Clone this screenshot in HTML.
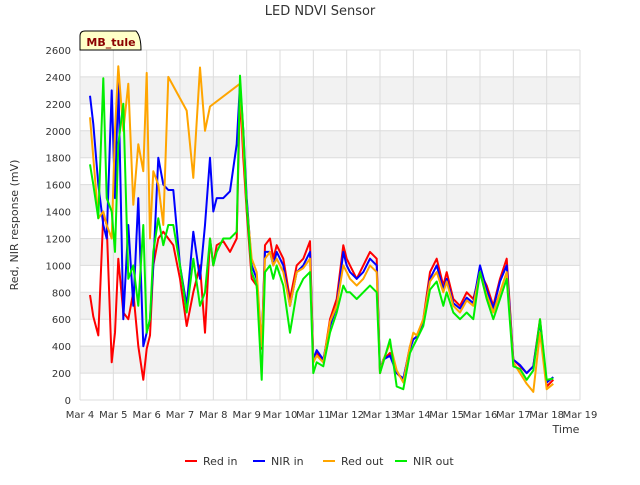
<!DOCTYPE html>
<html><head><meta charset="utf-8"><style>
body{margin:0;background:#fff;font-family:"Liberation Sans","DejaVu Sans",sans-serif}
svg text{font-family:"DejaVu Sans","Liberation Sans",sans-serif}
</style></head><body>
<svg id="c" width="640" height="480" viewBox="0 0 640 480">
<rect width="640" height="480" fill="#fff"/>
<g id="grid"></g>
<g id="axes"></g>
<g id="series"></g>
<text x="320" y="15" text-anchor="middle" font-size="13" fill="#333">LED NDVI Sensor</text>
<text transform="translate(18,225) rotate(-90)" text-anchor="middle" font-size="11" fill="#333">Red, NIR response (mV)</text>
<text x="566" y="433" text-anchor="middle" font-size="11" fill="#333">Time</text>
<g>
<path d="M80,50 L80,36 Q80,31 85,31 L136,31 Q141,36 141,50 Z" fill="#ffffc8" stroke="#000" stroke-width="1"/>
<text x="111" y="46" text-anchor="middle" font-size="11" font-weight="bold" fill="#8b0000">MB_tule</text>
</g>
<g id="legend"></g>
</svg>
<script>
const T=[0.3,0.4,0.55,0.7,0.8,0.95,1.05,1.15,1.3,1.45,1.6,1.75,1.9,2.0,2.1,2.2,2.35,2.5,2.65,2.8,3.0,3.2,3.4,3.6,3.75,3.9,4.0,4.1,4.3,4.5,4.7,4.8,4.9,5.0,5.15,5.3,5.45,5.55,5.7,5.8,5.9,6.1,6.3,6.5,6.7,6.9,7.0,7.1,7.3,7.5,7.7,7.9,8.0,8.1,8.3,8.5,8.7,8.9,9.0,9.1,9.3,9.5,9.7,9.9,10.0,10.1,10.3,10.5,10.7,10.9,11.0,11.2,11.4,11.6,11.8,12.0,12.2,12.4,12.6,12.8,13.0,13.2,13.4,13.6,13.8,14.0,14.2];
const redIn=[780,620,480,1380,1300,280,500,1050,650,600,800,400,150,380,480,1000,1200,1250,1200,1150,900,550,800,1000,500,1200,1000,1150,1180,1100,1200,2300,1800,1400,900,850,380,1150,1200,1050,1150,1050,750,1000,1050,1180,280,350,280,600,750,1150,1050,1000,900,1000,1100,1050,200,300,350,200,150,400,450,470,600,950,1050,850,950,750,700,800,750,950,850,700,900,1050,300,250,200,250,600,100,150];
const nirIn=[2260,2050,1600,1300,1200,2300,1500,2400,600,1300,700,1500,400,500,600,1000,1800,1600,1560,1560,1000,700,1250,900,1300,1800,1400,1500,1500,1550,1900,2350,2000,1500,1000,900,400,1100,1100,1000,1100,1000,700,950,1000,1100,300,370,300,550,700,1100,1000,950,900,950,1050,1000,220,300,330,200,160,380,450,470,580,900,1000,820,900,720,680,760,720,1000,820,680,880,1000,300,260,200,250,580,130,170];
const redOut=[2100,1800,1350,1400,1300,1200,2000,2480,2000,2350,1450,1900,1700,2430,1200,1700,1600,1300,2400,null,null,2150,1650,2470,2000,2180,null,null,null,null,null,2350,1900,1450,1050,950,400,1050,1100,1000,1050,950,700,950,980,1050,280,330,280,580,700,1000,950,900,850,900,1000,950,200,300,420,220,130,400,500,480,600,880,950,800,880,700,650,740,700,950,780,650,800,950,280,200,120,60,500,80,120];
const nirOut=[1750,1600,1350,2390,1500,1400,1100,1900,2200,900,1000,700,1300,500,600,1100,1350,1150,1300,1300,1000,650,1050,700,800,1200,1000,1100,1200,1200,1250,2410,2000,1450,950,850,150,950,1000,900,1000,850,500,800,900,950,200,280,250,500,650,850,800,800,750,800,850,800,200,280,450,100,80,350,400,450,550,820,880,700,800,650,600,650,600,950,750,600,750,900,250,230,150,220,600,150,160];
const yTicks=[0,200,400,600,800,1000,1200,1400,1600,1800,2000,2200,2400,2600];
const xTicks=["Mar 4","Mar 5","Mar 6","Mar 7","Mar 8","Mar 9","Mar 10","Mar 11","Mar 12","Mar 13","Mar 14","Mar 15","Mar 16","Mar 17","Mar 18","Mar 19"];
const seriesNames=["Red in","NIR in","Red out","NIR out"];
const X0=80,X1=580,Y0=400,Y1=50;
const xs=t=>X0+t*(X1-X0)/15;
const ys=v=>Y0-v*(Y0-Y1)/2600;
const NS="http://www.w3.org/2000/svg";
function mk(tag,a,p){const e=document.createElementNS(NS,tag);for(const k in a)e.setAttribute(k,a[k]);p.appendChild(e);return e;}
const grid=document.getElementById('grid'),axes=document.getElementById('axes'),ser=document.getElementById('series'),leg=document.getElementById('legend');
mk('rect',{x:X0,y:Y1,width:X1-X0,height:Y0-Y1,fill:'#fff'},grid);
for(let i=0;i<yTicks.length-1;i++){if(i%2===1){const b=mk('rect',{x:X0,y:ys(yTicks[i+1]),width:X1-X0,height:ys(yTicks[i])-ys(yTicks[i+1]),fill:'#f2f2f2'},grid);

}}
yTicks.forEach(v=>{const l=mk('line',{x1:X0,x2:X1,y1:ys(v),y2:ys(v),stroke:'#dcdcdc','stroke-width':1},grid);


const t=mk('text',{x:X0-9,y:ys(v)+4,'text-anchor':'end','font-size':10,fill:'#333'},axes);t.textContent=v;

});
xTicks.forEach((s,i)=>{const l=mk('line',{x1:xs(i),x2:xs(i),y1:Y1,y2:Y0,stroke:'#dcdcdc','stroke-width':1},grid);


const t=mk('text',{x:xs(i),y:Y0+18,'text-anchor':'middle','font-size':10,fill:'#333'},axes);t.textContent=s;

});
const data=[redIn,nirIn,redOut,nirOut],cols=['#ff0000','#0000ff','#ffa500','#00ee00'];
data.forEach((arr,k)=>{let d='',first=true;arr.forEach((v,i)=>{if(v===null)return;d+=(first?'M':'L')+xs(T[i]).toFixed(1)+','+ys(v).toFixed(1);first=false;});
const p=mk('path',{d:d,fill:'none',stroke:cols[k],'stroke-width':2,'stroke-linejoin':'round'},ser);

});
const lx=[185,253,323,395];
seriesNames.forEach((s,k)=>{const g=mk('g',{},leg);


mk('line',{x1:lx[k],x2:lx[k]+12,y1:461,y2:461,stroke:cols[k],'stroke-width':2},g);
const t=mk('text',{x:lx[k]+18,y:465,'font-size':11,fill:'#333'},g);t.textContent=s;});
</script>
</body></html>
